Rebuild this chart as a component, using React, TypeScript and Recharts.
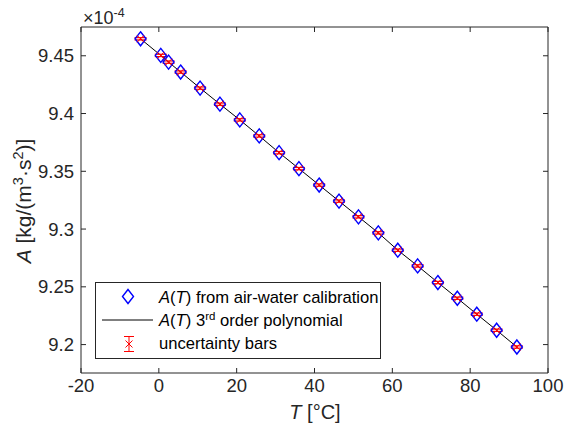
import React from "react";
import { ComposedChart, Line, Scatter, ErrorBar, XAxis, YAxis, Legend } from "recharts";

// temperatures (°C) and A(T) values (in units of 1e-4 kg/(m^3·s^2))
const temps = [-4.7, 0.5, 2.5, 5.6, 10.6, 15.7, 20.8, 25.8, 30.9, 36.0, 41.2, 46.3, 51.3, 56.4, 61.4, 66.5, 71.7, 76.7, 81.7, 86.8, 92.0];
const aValues = [
  9.4647, 9.4503, 9.4445, 9.4359, 9.422, 9.4081, 9.3945, 9.3806, 9.3661, 9.3523, 9.3381,
  9.3242, 9.3106, 9.2967, 9.2817, 9.2681, 9.2537, 9.2401, 9.2263, 9.2124, 9.1979,
];
const aUncertainty = [
  0.001, 0.001, 0.001, 0.001, 0.001, 0.001, 0.001, 0.001, 0.001, 0.001, 0.001,
  0.001, 0.001, 0.001, 0.001, 0.001, 0.001, 0.001, 0.001, 0.001, 0.001,
];
const xTicks = [-20, 0, 20, 40, 60, 80, 100];
const yTicks = [9.2, 9.25, 9.3, 9.35, 9.4, 9.45];

const rows = temps.map((t, i) => ({ T: t, A: aValues[i], err: aUncertainty[i] }));

const FONT = '"Liberation Sans", Arial, Helvetica, sans-serif';
const AXIS = "#262626";
const TICK_LEN = 5;

function BottomTick({ x, y, payload }: any) {
  return (
    <g>
      <line x1={x} x2={x} y1={y} y2={y - TICK_LEN} stroke={AXIS} />
      <text x={x} y={y + 18.5} textAnchor="middle" fontSize={18.5} fill={AXIS} fontFamily={FONT}>
        {payload.value}
      </text>
    </g>
  );
}

function TopTick({ x, y }: any) {
  return <line x1={x} x2={x} y1={y} y2={y + TICK_LEN} stroke={AXIS} />;
}

function LeftTick({ x, y, payload }: any) {
  return (
    <g>
      <line x1={x} x2={x + TICK_LEN} y1={y} y2={y} stroke={AXIS} />
      <text x={x - 7} y={y + 6.5} textAnchor="end" fontSize={18.5} fill={AXIS} fontFamily={FONT}>
        {payload.value}
      </text>
    </g>
  );
}

function RightTick({ x, y }: any) {
  return <line x1={x} x2={x - TICK_LEN} y1={y} y2={y} stroke={AXIS} />;
}

function Diamond({ cx, cy }: any) {
  return (
    <path
      d={`M${cx},${cy - 7}L${cx + 5.5},${cy}L${cx},${cy + 7}L${cx - 5.5},${cy}Z`}
      fill="none"
      stroke="#0000ff"
      strokeWidth={1.4}
    />
  );
}

function Cross({ cx, cy }: any) {
  const s = 3.5;
  return (
    <g stroke="#ff0000" strokeWidth={1}>
      <line x1={cx - s} y1={cy - s} x2={cx + s} y2={cy + s} />
      <line x1={cx - s} y1={cy + s} x2={cx + s} y2={cy - s} />
    </g>
  );
}

function LegendBox() {
  return (
    <svg width={286} height={77} style={{ display: "block", fontFamily: FONT }}>
      <rect x={0.5} y={0.5} width={285} height={76} fill="#fff" stroke={AXIS} />
      <Diamond cx={33} cy={14.5} />
      <line x1={7} x2={58} y1={38} y2={38} stroke="#000" />
      <g stroke="#ff0000">
        <line x1={34} x2={34} y1={54.5} y2={69.5} />
        <line x1={29} x2={39} y1={54.5} y2={54.5} />
        <line x1={29} x2={39} y1={69.5} y2={69.5} />
      </g>
      <Cross cx={34} cy={62} />
      <g fontSize={16.6} fill="#000">
        <text x={64} y={20.5}>
          <tspan fontStyle="italic">A</tspan>(<tspan fontStyle="italic">T</tspan>) from air-water calibration
        </text>
        <text x={64} y={44}>
          <tspan fontStyle="italic">A</tspan>(<tspan fontStyle="italic">T</tspan>) 3
          <tspan fontSize={11.5} dy={-6}>rd</tspan>
          <tspan dy={6}> order polynomial</tspan>
        </text>
        <text x={64} y={67}>uncertainty bars</text>
      </g>
    </svg>
  );
}

export default function App() {
  return (
    <div style={{ position: "absolute", left: 0, top: 0, width: 571, height: 434, background: "#fff", fontFamily: FONT }}>
      <ComposedChart width={571} height={434} data={rows} margin={{ top: 26, right: 22, bottom: 0, left: 0 }}>
        <XAxis
          xAxisId="b"
          type="number"
          dataKey="T"
          domain={[-20, 100]}
          ticks={xTicks}
          interval={0}
          allowDataOverflow
          height={61}
          tickSize={0}
          tickMargin={0}
          tickLine={false}
          axisLine={{ stroke: AXIS }}
          tick={BottomTick}
          label={{
            content: () => (
              <text x={315} y={419} textAnchor="middle" fontSize={20} fill={AXIS} fontFamily={FONT}>
                <tspan fontStyle="italic">T</tspan> [°C]
              </text>
            ),
          }}
        />
        <XAxis
          xAxisId="t"
          orientation="top"
          type="number"
          dataKey="T"
          domain={[-20, 100]}
          ticks={xTicks}
          interval={0}
          allowDataOverflow
          height={1}
          tickSize={0}
          tickMargin={0}
          tickLine={false}
          axisLine={{ stroke: AXIS }}
          tick={TopTick}
          label={{
            content: () => (
              <text x={83} y={23.5} fontSize={18} fill={AXIS} fontFamily={FONT}>
                ×10
                <tspan fontSize={12.5} dy={-7}>-4</tspan>
              </text>
            ),
          }}
        />
        <YAxis
          yAxisId="l"
          type="number"
          domain={[9.1754, 9.4749]}
          ticks={yTicks}
          interval={0}
          allowDataOverflow
          width={81}
          tickSize={0}
          tickMargin={0}
          tickLine={false}
          axisLine={{ stroke: AXIS }}
          tick={LeftTick}
          label={{
            content: () => (
              <text transform="translate(31,201) rotate(-90)" textAnchor="middle" fontSize={21} fill={AXIS} fontFamily={FONT}>
                <tspan fontStyle="italic">A</tspan> [kg/(m
                <tspan fontSize={14.5} dy={-8}>3</tspan>
                <tspan dy={8}>·s</tspan>
                <tspan fontSize={14.5} dy={-8}>2</tspan>
                <tspan dy={8}>)]</tspan>
              </text>
            ),
          }}
        />
        <YAxis
          yAxisId="r"
          orientation="right"
          type="number"
          domain={[9.1754, 9.4749]}
          ticks={yTicks}
          interval={0}
          allowDataOverflow
          width={1}
          tickSize={0}
          tickMargin={0}
          tickLine={false}
          axisLine={{ stroke: AXIS }}
          tick={RightTick}
        />
        <Scatter
          name="A(T) from air-water calibration"
          xAxisId="b"
          yAxisId="l"
          dataKey="A"
          shape={Diamond}
          isAnimationActive={false}
        />
        <Line
          name="A(T) 3rd order polynomial"
          xAxisId="b"
          yAxisId="l"
          dataKey="A"
          type="linear"
          stroke="#000"
          strokeWidth={1}
          dot={false}
          activeDot={false}
          isAnimationActive={false}
        />
        <Scatter
          name="uncertainty bars"
          xAxisId="b"
          yAxisId="l"
          dataKey="A"
          shape={Cross}
          isAnimationActive={false}
        >
          <ErrorBar dataKey="err" direction="y" width={6} stroke="#ff0000" strokeWidth={1.2} isAnimationActive={false} />
        </Scatter>
        <Legend
          layout="horizontal"
          verticalAlign="middle"
          align="center"
          content={() => <LegendBox />}
          wrapperStyle={{ left: 95, top: 282, width: 286, height: 77 }}
        />
      </ComposedChart>
    </div>
  );
}
